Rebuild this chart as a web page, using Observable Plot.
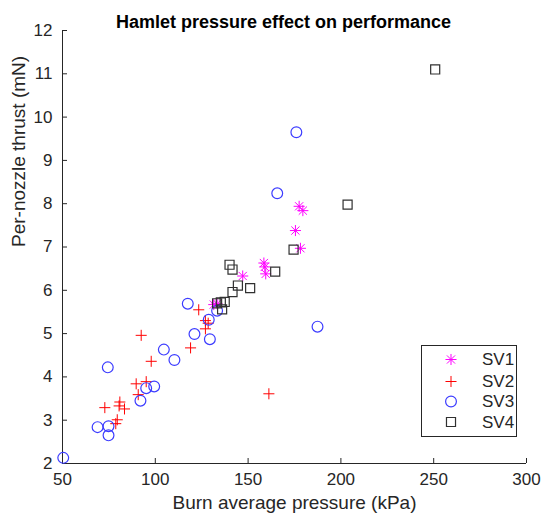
<!DOCTYPE html>
<html><head><meta charset="utf-8">
<script src="https://cdn.jsdelivr.net/npm/d3@7"></script>
<script src="https://cdn.jsdelivr.net/npm/@observablehq/plot@0.6"></script>
<style>
body{margin:0;background:#fff;font-family:"Liberation Sans",Arial,sans-serif;}
#wrap{position:relative;width:543px;height:521px;}
#legend{position:absolute;left:421px;top:345px;}
</style></head><body><div id="wrap"></div>
<script>
const titleText = "Hamlet pressure effect on performance";
const xLabel = "Burn average pressure (kPa)";
const yLabel = "Per-nozzle thrust (mN)";
const xTicks = [50, 100, 150, 200, 250, 300];
const yTicks = [2, 3, 4, 5, 6, 7, 8, 9, 10, 11, 12];
const seriesNames = ["SV1", "SV2", "SV3", "SV4"];

const sv1Pressure = [131.5, 133.3, 147.1, 158.5, 159.0, 159.5, 175.5, 177.5, 179.5, 178.2];
const sv1Thrust   = [5.67, 5.69, 6.33, 6.63, 6.54, 6.38, 7.38, 7.94, 7.84, 6.97];

const sv2Pressure = [72.8, 78.7, 79.5, 80.5, 80.9, 83.4, 89.7, 90.8, 95.1, 92.4, 97.8, 119.0, 123.4, 127.0, 128.5, 127.0, 161.2];
const sv2Thrust   = [3.29, 2.92, 3.01, 3.33, 3.42, 3.26, 3.84, 3.59, 3.89, 4.96, 4.36, 4.67, 5.55, 5.30, 5.24, 5.11, 3.61];

const sv3Pressure = [50.4, 68.9, 74.8, 74.8, 74.4, 92.0, 95.1, 99.4, 104.6, 110.3, 117.5, 121.1, 128.8, 129.4, 133.3, 165.7, 176.0, 187.4];
const sv3Thrust   = [2.13, 2.84, 2.86, 2.65, 4.22, 3.45, 3.74, 3.78, 4.63, 4.39, 5.69, 4.99, 5.32, 4.87, 5.53, 8.24, 9.65, 5.16];

const sv4Pressure = [133.3, 135.3, 137.4, 136.0, 140.0, 141.6, 144.5, 141.6, 151.1, 164.6, 174.5, 203.6, 250.8];
const sv4Thrust   = [5.70, 5.72, 5.73, 5.56, 6.59, 6.48, 6.11, 5.96, 6.05, 6.43, 6.94, 7.98, 11.10];

const toRows = (xs, ys) => xs.map((x, i) => ({x, y: ys[i]}));
const sv1 = toRows(sv1Pressure, sv1Thrust);
const sv2 = toRows(sv2Pressure, sv2Thrust);
const sv3 = toRows(sv3Pressure, sv3Thrust);
const sv4 = toRows(sv4Pressure, sv4Thrust);

const ink = "#262626";
const cMag = "#ff00ff", cRed = "#ff0000", cBlue = "#3c3cff", cBlk = "#303030";
const font = '"Liberation Sans", Arial, sans-serif';
const rPlus = 3.65, rTimes = 3.8, rCircle = 5.4, rSquare = 5.1;

const chart = Plot.plot({
  width: 543, height: 521,
  marginLeft: 62, marginRight: 17, marginTop: 30, marginBottom: 58,
  x: {domain: [xTicks[0], xTicks[xTicks.length - 1]]},
  y: {domain: [yTicks[0], yTicks[yTicks.length - 1]]},
  style: {fontFamily: font, color: ink, background: "#fff"},
  marks: [
    Plot.ruleX([xTicks[0]], {stroke: ink}),
    Plot.ruleY([yTicks[0]], {stroke: ink}),
    Plot.axisX({ticks: xTicks, tickSize: -5, tickPadding: 14, fontSize: 17, label: null, color: ink}),
    Plot.axisY({ticks: yTicks, tickSize: -5, tickPadding: 15, fontSize: 17, label: null, color: ink}),
    Plot.dot(sv1, {x: "x", y: "y", symbol: "plus", r: rPlus, stroke: cMag, fill: "none", strokeWidth: 1}),
    Plot.dot(sv1, {x: "x", y: "y", symbol: "times", r: rTimes, stroke: cMag, fill: "none", strokeWidth: 1}),
    Plot.dot(sv2, {x: "x", y: "y", symbol: "plus", r: rPlus, stroke: cRed, fill: "none", strokeWidth: 1}),
    Plot.dot(sv3, {x: "x", y: "y", symbol: "circle", r: rCircle, stroke: cBlue, fill: "none", strokeWidth: 1.2}),
    Plot.dot(sv4, {x: "x", y: "y", symbol: "square", r: rSquare, stroke: cBlk, fill: "none", strokeWidth: 1.2}),
    Plot.text([xLabel], {frameAnchor: "bottom", dy: 45, fontSize: 19, fill: ink}),
    Plot.text([yLabel], {frameAnchor: "left", rotate: -90, dx: -44, fontSize: 19, fill: ink}),
    Plot.text([titleText], {frameAnchor: "top", dy: -15, dx: -11, fontSize: 18, fontWeight: "bold", fill: "#000"})
  ]
});
document.getElementById("wrap").appendChild(chart);

// Legend
const legendSymbols = [
  [[d3.symbolPlus, rPlus], [d3.symbolTimes, rTimes]],
  [[d3.symbolPlus, rPlus]],
  [[d3.symbolCircle, rCircle]],
  [[d3.symbolSquare, rSquare]]
];
const legendColors = [cMag, cRed, cBlue, cBlk];
const lw = 96, lh = 92, rowY = [14.5, 36.5, 56.5, 77];
const lg = d3.create("svg").attr("id", "legend").attr("width", lw).attr("height", lh)
  .style("font-family", font);
lg.append("rect").attr("x", 0.5).attr("y", 0.5).attr("width", lw - 1).attr("height", lh - 1)
  .attr("fill", "#fff").attr("stroke", ink);
seriesNames.forEach((name, i) => {
  const g = lg.append("g").attr("transform", `translate(30,${rowY[i]})`);
  legendSymbols[i].forEach(([sym, r]) => {
    g.append("path").attr("d", d3.symbol(sym, Math.PI * r * r)())
      .attr("fill", "none").attr("stroke", legendColors[i]).attr("stroke-width", i >= 2 ? 1.2 : 1);
  });
  lg.append("text").attr("x", 61).attr("y", rowY[i]).attr("dy", "0.35em")
    .attr("font-size", 17).attr("fill", ink).text(name);
});
document.getElementById("wrap").appendChild(lg.node());
</script></body></html>
